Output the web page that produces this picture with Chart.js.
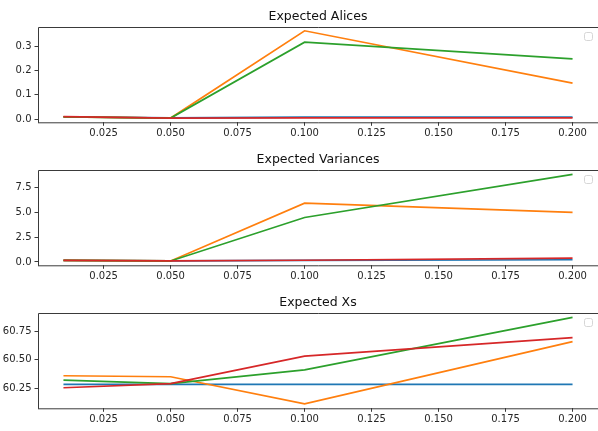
<!DOCTYPE html>
<html>
<head>
<meta charset="utf-8">
<script src="https://cdn.jsdelivr.net/npm/chart.js@4/dist/chart.umd.min.js"></script>
<style>
  html, body { margin: 0; padding: 0; background: #fff; overflow: hidden; }
  .panel { position: absolute; left: 0; width: 598px; height: 142px; }
</style>
</head>
<body>
<div class="panel" style="top:0px"><canvas id="c1" width="598" height="142"></canvas></div>
<div class="panel" style="top:143px"><canvas id="c2" width="598" height="142"></canvas></div>
<div class="panel" style="top:286px"><canvas id="c3" width="598" height="142"></canvas></div>
<script>
// Sampled step sizes
const xValues = [0.01, 0.05, 0.1, 0.2];
const xTicks = [0.025, 0.05, 0.075, 0.1, 0.125, 0.15, 0.175, 0.2];

// Expected Alices
const aliceBlue   = [0.010, 0.006, 0.009, 0.009];
const aliceOrange = [0.010, 0.005, 0.363, 0.148];
const aliceGreen  = [0.010, 0.005, 0.316, 0.248];
const aliceRed    = [0.011, 0.005, 0.006, 0.006];
const aliceTicks  = [0.0, 0.1, 0.2, 0.3];

// Expected Variances
const varBlue   = [0.15, 0.10, 0.15, 0.22];
const varOrange = [0.15, 0.10, 5.95, 5.02];
const varGreen  = [0.15, 0.10, 4.50, 8.87];
const varRed    = [0.15, 0.10, 0.17, 0.38];
const varTicks  = [0.0, 2.5, 5.0, 7.5];

// Expected Xs
const xsBlue   = [60.283, 60.283, 60.283, 60.283];
const xsOrange = [60.359, 60.350, 60.112, 60.660];
const xsGreen  = [60.320, 60.289, 60.410, 60.874];
const xsRed    = [60.253, 60.290, 60.532, 60.695];
const xsTicks  = [60.25, 60.50, 60.75];

const COLORS = ['#1f77b4', '#ff7f0e', '#2ca02c', '#d62728'];
const FONT = "'DejaVu Sans', sans-serif";
const AXIS_COLOR = '#3a3a3a';
const TEXT_COLOR = '#262626';

// Axes frame (drawn above lines, like spines) and an empty legend box
const framePlugin = {
  id: 'frame',
  afterDatasetsDraw(chart) {
    const { ctx, chartArea: a } = chart;
    ctx.save();
    ctx.strokeStyle = AXIS_COLOR;
    ctx.lineWidth = 1;
    ctx.beginPath();
    ctx.moveTo(a.left + 0.5, a.bottom + 0.5);
    ctx.lineTo(a.left + 0.5, a.top + 0.5);
    ctx.lineTo(a.right + 1, a.top + 0.5);
    ctx.moveTo(a.left, a.bottom + 0.5);
    ctx.lineTo(a.right + 1, a.bottom + 0.5);
    ctx.stroke();
    // empty legend frame
    const bx = a.right - 14, by = a.top + 5, s = 8, r = 2;
    ctx.strokeStyle = '#d6d6d6';
    ctx.fillStyle = 'rgba(255,255,255,0.8)';
    ctx.beginPath();
    ctx.roundRect(bx + 0.5, by + 0.5, s, s, r);
    ctx.fill();
    ctx.stroke();
    ctx.restore();
  }
};

function makeChart(id, title, series, yMin, yMax, yTicks, decimals) {
  const datasets = series.map((vals, i) => ({
    data: xValues.map((x, j) => ({ x: x, y: vals[j] })),
    borderColor: COLORS[i],
    backgroundColor: COLORS[i],
    borderWidth: 1.7,
    pointRadius: 0,
    tension: 0,
    fill: false,
    order: series.length - i
  }));
  return new Chart(document.getElementById(id), {
    type: 'line',
    data: { datasets },
    plugins: [framePlugin],
    options: {
      responsive: false,
      animation: false,
      devicePixelRatio: 1,
      layout: { padding: 0 },
      plugins: {
        legend: { display: false },
        tooltip: { enabled: false },
        title: {
          display: true,
          text: title,
          fullSize: false,
          color: '#111',
          font: { family: FONT, size: 12.5, weight: 'normal' },
          padding: { top: 9, bottom: 3 }
        }
      },
      scales: {
        x: {
          type: 'linear',
          min: 0.0005,
          max: 0.2095,
          afterBuildTicks: s => { s.ticks = xTicks.map(v => ({ value: v })); },
          afterFit: s => { s.height = 19.7; },
          border: { display: false },
          grid: { drawOnChartArea: false, drawTicks: true, tickLength: 3.5, tickColor: AXIS_COLOR, tickWidth: 1 },
          ticks: {
            autoSkip: false, maxRotation: 0, padding: 2,
            color: TEXT_COLOR,
            font: { family: FONT, size: 10 },
            callback: v => Number(v).toFixed(3)
          }
        },
        y: {
          type: 'linear',
          min: yMin,
          max: yMax,
          afterBuildTicks: s => { s.ticks = yTicks.map(v => ({ value: v })); },
          afterFit: s => { s.width = 38; },
          border: { display: false },
          grid: { drawOnChartArea: false, drawTicks: true, tickLength: 3.5, tickColor: AXIS_COLOR, tickWidth: 1 },
          ticks: {
            padding: 3,
            color: TEXT_COLOR,
            font: { family: FONT, size: 10 },
            callback: v => Number(v).toFixed(decimals)
          }
        }
      }
    }
  });
}

makeChart('c1', 'Expected Alices', [aliceBlue, aliceOrange, aliceGreen, aliceRed], -0.0125, 0.3785, aliceTicks, 1);
makeChart('c2', 'Expected Variances', [varBlue, varOrange, varGreen, varRed], -0.34, 9.31, varTicks, 1);
makeChart('c3', 'Expected Xs', [xsBlue, xsOrange, xsGreen, xsRed], 60.072, 60.912, xsTicks, 2);
</script>
</body>
</html>
